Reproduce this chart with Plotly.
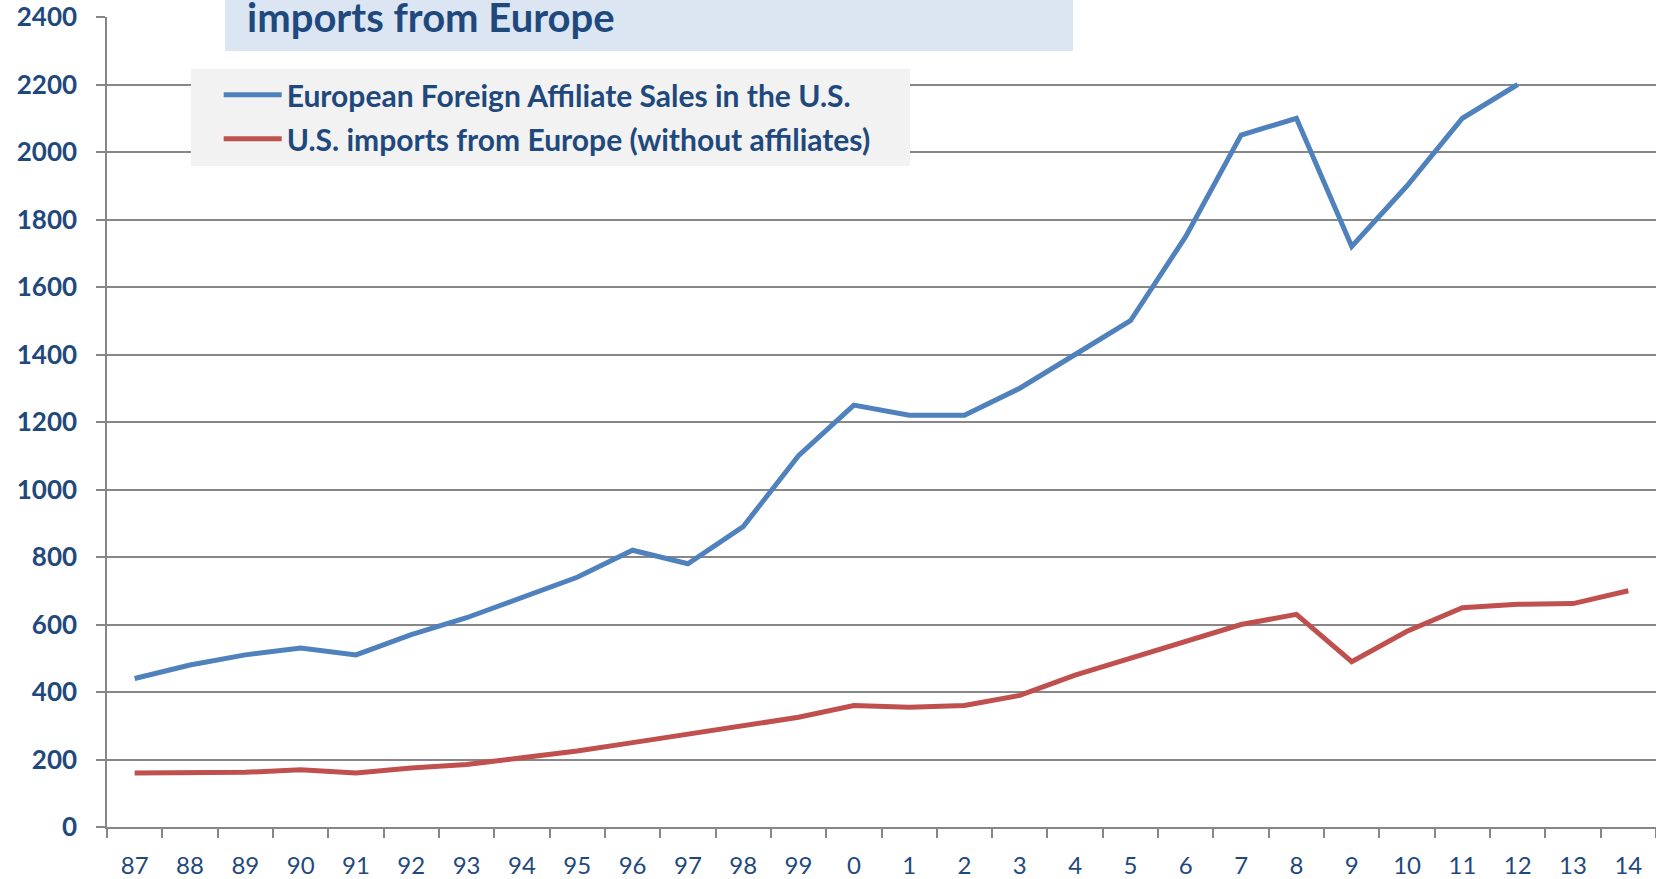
import plotly.graph_objects as go

# categorias (anos abreviados, como no original)
YEARS = ["87", "88", "89", "90", "91", "92", "93", "94", "95", "96", "97", "98", "99",
         "0", "1", "2", "3", "4", "5", "6", "7", "8", "9", "10", "11", "12", "13", "14"]

AFFILIATE_SALES = [440, 480, 510, 530, 510, 570, 620, 680, 740, 820, 780, 890, 1100,
                   1250, 1220, 1220, 1300, 1400, 1500, 1750, 2050, 2100, 1720, 1900, 2100, 2200,
                   None, None]
IMPORTS = [160, 160, 162, 170, 160, 175, 185, 205, 225, 250, 275, 300, 325,
           360, 355, 360, 390, 450, 500, 550, 600, 630, 490, 580, 650, 660, 662, 700]

Y_TICKS = [0, 200, 400, 600, 800, 1000, 1200, 1400, 1600, 1800, 2000, 2200, 2400]

NAME_SALES = "European Foreign Affiliate Sales in the U.S."
NAME_IMPORTS = "U.S. imports from Europe (without affiliates)"
TITLE = "imports from Europe"

COLOR_BLUE = "#4F81BD"
COLOR_RED = "#C0504D"
COLOR_TEXT = "#1F497D"
COLOR_GRID = "#878787"
FONT = "Lato, 'Open Sans', sans-serif"

fig = go.Figure()
fig.add_trace(go.Scatter(
    x=YEARS, y=AFFILIATE_SALES, name=NAME_SALES, mode="lines",
    line=dict(color=COLOR_BLUE, width=5), legendgroup="a",
))
fig.add_trace(go.Scatter(
    x=YEARS, y=IMPORTS, name=NAME_IMPORTS, mode="lines",
    line=dict(color=COLOR_RED, width=5), legendgroup="b",
))

fig.update_layout(
    width=1656,
    height=879,
    margin=dict(l=107, r=0, t=17, b=52),
    paper_bgcolor="white",
    plot_bgcolor="white",
    font=dict(family=FONT, color=COLOR_TEXT),
    legend=dict(
        x=0.0721, y=0.936, xanchor="left", yanchor="top",
        bgcolor="rgba(0,0,0,0)",
        font=dict(family=FONT, size=30, color=COLOR_TEXT, weight="bold"),
        tracegroupgap=2,
        itemwidth=58,
    ),
    shapes=[
        # caixa do título (cortada no topo, como no original)
        dict(type="rect", xref="paper", yref="paper",
             x0=0.0762, x1=0.6236, y0=0.958, y1=1.03,
             fillcolor="#DCE6F2", line=dict(width=0), layer="above"),
        # fundo cinza da legenda
        dict(type="rect", xref="paper", yref="paper",
             x0=0.0542, x1=0.5184, y0=0.816, y1=0.936,
             fillcolor="#F2F2F2", line=dict(width=0), layer="above"),
    ],
    annotations=[dict(
        text=f"<b>{TITLE}</b>", xref="paper", yref="paper",
        x=0.0891, y=1.0, xanchor="left", yanchor="middle",
        showarrow=False, font=dict(family=FONT, size=40, color=COLOR_TEXT),
    )],
)

fig.update_xaxes(
    type="category",
    range=[-0.5, 27.5],
    showgrid=False,
    showline=True, linecolor=COLOR_GRID, linewidth=1.5,
    ticks="outside", tickson="boundaries", ticklen=9, tickcolor=COLOR_GRID, tickwidth=1.5,
    tickfont=dict(family=FONT, size=24, color=COLOR_TEXT),
    ticklabelstandoff=16,
    automargin=False,
)
fig.update_yaxes(
    range=[0, 2400],
    tickvals=Y_TICKS,
    showgrid=True, gridcolor=COLOR_GRID, gridwidth=1.5,
    showline=True, linecolor=COLOR_GRID, linewidth=1.5,
    ticks="outside", ticklen=9, tickcolor=COLOR_GRID, tickwidth=1.5,
    tickfont=dict(family=FONT, size=26, color=COLOR_TEXT, weight="bold"),
    ticklabelstandoff=14,
    ticklabeloverflow="allow",
    automargin=False,
    zeroline=False,
)

# sem margem do <body>, a figura ocupa a janela inteira
fig.write_html(
    "out.html",
    config={"displayModeBar": False},
    post_script="document.body.style.margin = '0';",
)
